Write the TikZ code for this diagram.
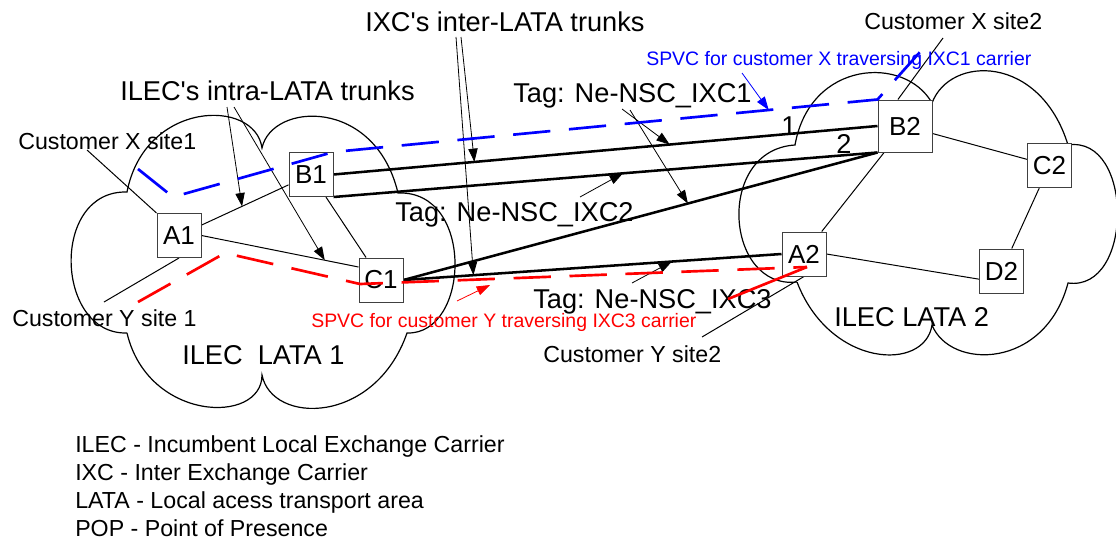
\documentclass[tikz,border=0pt]{standalone}
\usepackage{fontspec}
\setmainfont{Liberation Sans}
\usepackage{tikz}
\usetikzlibrary{arrows.meta}
\pgfdeclarelayer{edgelayer}
\pgfdeclarelayer{nodelayer}
\pgfsetlayers{edgelayer,nodelayer,main}
\definecolor{spvcblue}{rgb}{0,0,1}
\definecolor{spvcred}{rgb}{1,0,0}
\tikzstyle{exch}=[rectangle, fill=white, draw=black!75, line width=0.75pt, minimum width=33pt, minimum height=33pt, inner sep=0pt, font=\fontsize{19.5}{22}\selectfont]
\tikzstyle{bigexch}=[style=exch, minimum width=40.5pt, minimum height=39pt]
\tikzstyle{lata}=[draw=black, line width=0.9pt]
\tikzstyle{link}=[-, draw=black, line width=0.75pt]
\tikzstyle{trunk}=[-, draw=black, line width=1.9pt]
\tikzstyle{pointer}=[-{Triangle[length=10pt,width=7pt]}, line width=0.6pt]
\tikzstyle{spvcX}=[draw=spvcblue, line width=2pt, dash pattern=on 28pt off 14pt]
\tikzstyle{spvcY}=[draw=spvcred, line width=2pt, dash pattern=on 28pt off 14pt]
\tikzstyle{caption}=[inner sep=0pt, anchor=base west, font=\fontsize{20.4}{24}\selectfont]
\tikzstyle{sitelabel}=[inner sep=0pt, anchor=base west, font=\fontsize{17.4}{20}\selectfont]
\tikzstyle{spvclabel}=[inner sep=0pt, anchor=base west, font=\fontsize{14.6}{17}\selectfont]

\begin{document}
\begin{tikzpicture}[x=0.75pt, y=-0.75pt]
    \useasboundingbox (0,0) rectangle (1116,542);
    \begin{pgfonlayer}{nodelayer}
        \node [style=exch] (A1) at (179,235.5) {A1};
        \node [style=exch] (B1) at (311,174.5) {B1};
        \node [style=exch] (C1) at (381,280) {C1};
        \node [style=bigexch] (B2) at (905,126) {B2};
        \node [style=exch] (C2) at (1049.5,165.5) {C2};
        \node [style=exch] (A2) at (804,254) {A2};
        \node [style=exch] (D2) at (1001.5,271) {D2};
    \end{pgfonlayer}

    \node [style=caption] (ixcT) at (365,32) {IXC\textquotesingle s inter-LATA trunks};
    \node [style=caption] (ilecT) at (120,100) {ILEC\textquotesingle s intra-LATA trunks};
    \node [style=caption] (tag1) at (513,103) {Tag: Ne-NSC\_IXC1};
    \node [style=caption] (tag2) at (395,221) {Tag: Ne-NSC\_IXC2};
    \node [style=caption] (tag3) at (533,308) {Tag: Ne-NSC\_IXC3};
    \node [style=caption] (lata1) at (182,364) {ILEC\ \ LATA 1};
    \node [style=caption] (lata2) at (834,326) {ILEC LATA 2};
    \node [style=caption] (num1) at (781,135) {1};
    \node [style=caption] (num2) at (836,153) {2};
    \node [style=sitelabel] (custX1) at (18,149) {Customer X site1};
    \node [style=sitelabel] (custY1) at (12,326) {Customer Y site 1};
    \node [style=sitelabel] (custX2) at (864,30) {Customer X site2};
    \node [style=sitelabel] (custY2) at (543,362) {Customer Y site2};
    \node [style=spvclabel, text=spvcblue] (spvcXT) at (646,65) {SPVC for customer X traversing IXC1 carrier};
    \node [style=spvclabel, text=spvcred] (spvcYT) at (311,327) {SPVC for customer Y traversing IXC3 carrier};
    \node [style=sitelabel] (legILEC) at (75,452) {ILEC - Incumbent Local Exchange Carrier};
    \node [style=sitelabel] (legIXC) at (75,480) {IXC - Inter Exchange Carrier};
    \node [style=sitelabel] (legLATA) at (75,508) {LATA - Local acess transport area};
    \node [style=sitelabel] (legPOP) at (75,536) {POP - Point of Presence};

    \coordinate (lX1) at (87,150);
    \coordinate (lY1) at (104,302);
    \coordinate (lX2) at (943,38);
    \coordinate (lY2) at (702,337);
    \coordinate (ilecP1) at (227,107);
    \coordinate (ilecP2) at (234,107);
    \coordinate (ixcP1) at (456,37);
    \coordinate (ixcP2) at (461,37);
    \coordinate (tag1P1) at (622,109);
    \coordinate (tag1P2) at (630,110);
    \coordinate (tag2P) at (580,197);
    \coordinate (tag3P) at (632,283);
    \coordinate (spvcXP) at (742,73);
    \coordinate (spvcYP) at (457,301);
    \coordinate (ryTip) at (490,285);
    \coordinate (bx1) at (138,169);
    \coordinate (bx2) at (173,197);
    \coordinate (bx5) at (920,52);
    \coordinate (ry1) at (138,302);
    \coordinate (ry2) at (225,253);
    \coordinate (ry3) at (360,284);
    \coordinate (ry4) at (807,267);
    \coordinate (ry5) at (728,299);

    \begin{pgfonlayer}{edgelayer}
        \draw [style=lata] (127,333) .. controls (55,335) and (50,190) .. (127,192)
            .. controls (145,100) and (255,98) .. (262,148)
            .. controls (272,102) and (375,97) .. (398,193)
            .. controls (475,190) and (470,335) .. (407,333)
            .. controls (375,425) and (272,425) .. (262,375)
            .. controls (262,425) and (148,422) .. (127,333);
        \draw [style=lata] (797,282) .. controls (725,290) and (715,150) .. (795,145)
            .. controls (810,60) and (905,55) .. (932,103)
            .. controls (950,55) and (1040,54) .. (1068,145)
            .. controls (1134,135) and (1134,292) .. (1068,283)
            .. controls (1045,370) and (950,370) .. (932,325)
            .. controls (925,372) and (830,368) .. (797,282);

        \draw [style=link] (A1) to coordinate[pos=0.466] (ab1) (B1);
        \draw [style=link] (A1.east) to coordinate[pos=0.785] (ac1) (C1.150);
        \draw [style=link] (B1) to (C1);
        \draw [style=link] (B2) to (C2);
        \draw [style=link] (B2) to (A2);
        \draw [style=link] (C2) to (D2);
        \draw [style=link] (A2.east) to (D2.200);
        \draw [style=link] (lX1) to (A1.north west);
        \draw [style=link] (lY1) to (A1.south);
        \draw [style=link] (lX2) to (B2.105);
        \draw [style=link] (lY2) to (A2.south);

        \draw [style=trunk] (B1.east) to coordinate[pos=0.259] (tr1a) coordinate[pos=0.618] (tr1b) (B2.west);
        \draw [style=trunk] (B1.south east) to coordinate[pos=0.532] (tr2a) (B2.south west);
        \draw [style=trunk] (C1.east) to coordinate[pos=0.6] (tr3a) (B2.south west);
        \draw [style=trunk] (C1.east) to coordinate[pos=0.185] (tr4a) coordinate[pos=0.71] (tr4b) (A2.west);

        \draw [style=pointer] (ilecP1) to (ab1);
        \draw [style=pointer] (ilecP2) to (ac1);
        \draw [style=pointer] (ixcP1) to (tr4a);
        \draw [style=pointer] (ixcP2) to (tr1a);
        \draw [style=pointer] (tag1P1) to (tr1b);
        \draw [style=pointer] (tag1P2) to (tr3a);
        \draw [style=pointer] (tag2P) to (tr2a);
        \draw [style=pointer] (tag3P) to (tr4b);
    \end{pgfonlayer}

    \draw [style=spvcX] (bx1) -- (bx2) -- (B1.north east) -- coordinate[pos=0.8] (bxa) (B2.north west) -- (bx5);
    \draw [style=spvcY] (ry1) -- (ry2) -- (ry3) -- (ry4);
    \draw [style=spvcY, solid] (ry4) -- (ry5);
    \draw [style=pointer, spvcblue] (spvcXP) to (bxa);
    \draw [style=pointer, spvcred] (spvcYP) to (ryTip);
\end{tikzpicture}
\end{document}
